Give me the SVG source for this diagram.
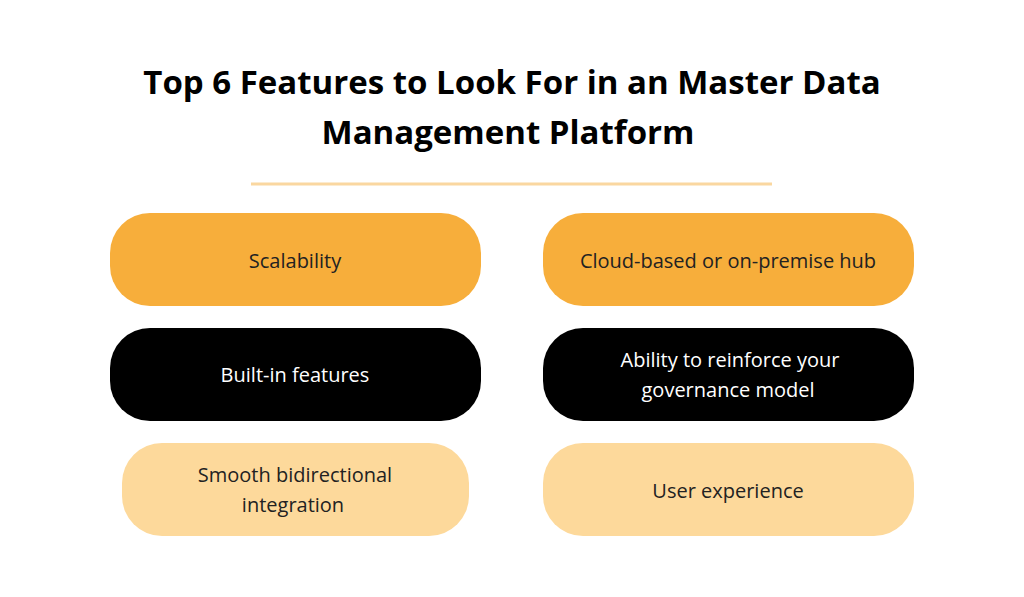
<svg xmlns="http://www.w3.org/2000/svg" width="1024" height="597" viewBox="0 0 1024 597">
<style>
.t{font-family:"Open Sans","Liberation Sans",sans-serif;font-weight:700;font-size:33px;fill:#000;text-anchor:middle}
.l{font-family:"Open Sans","Liberation Sans",sans-serif;font-size:20px;text-anchor:middle;dominant-baseline:central}
.o{fill:#F7AE3B}.b{fill:#000}.p{fill:#FDD99B}
.dk{fill:#222}.wt{fill:#fff}
</style>
<rect width="1024" height="597" fill="#fff"/>
<text class="t" x="512" y="94">Top 6 Features to Look For in an Master Data</text>
<text class="t" x="508" y="144">Management  Platform</text>
<line x1="251" y1="184" x2="772" y2="184" stroke="#FAD7A0" stroke-width="3"/>
<g id="n1"><rect class="o" x="110" y="213" width="371" height="93" rx="40"/><text class="l dk" x="295" y="260">Scalability</text></g>
<g id="n2"><rect class="o" x="543" y="213" width="371" height="93" rx="40"/><text class="l dk" x="728" y="260">Cloud-based or on-premise hub</text></g>
<g id="n3"><rect class="b" x="110" y="328" width="371" height="93" rx="40"/><text class="l wt" x="295" y="374">Built-in features</text></g>
<g id="n4"><rect class="b" x="543" y="328" width="371" height="93" rx="40"/><text class="l wt" x="730" y="359">Ability to reinforce your</text><text class="l wt" x="728" y="389">governance model</text></g>
<g id="n5"><rect class="p" x="122" y="443" width="347" height="93" rx="40"/><text class="l dk" x="295" y="474">Smooth bidirectional</text><text class="l dk" x="293" y="504">integration</text></g>
<g id="n6"><rect class="p" x="543" y="443" width="371" height="93" rx="40"/><text class="l dk" x="728" y="490">User experience</text></g>
<g id="connectors"/>
</svg>
